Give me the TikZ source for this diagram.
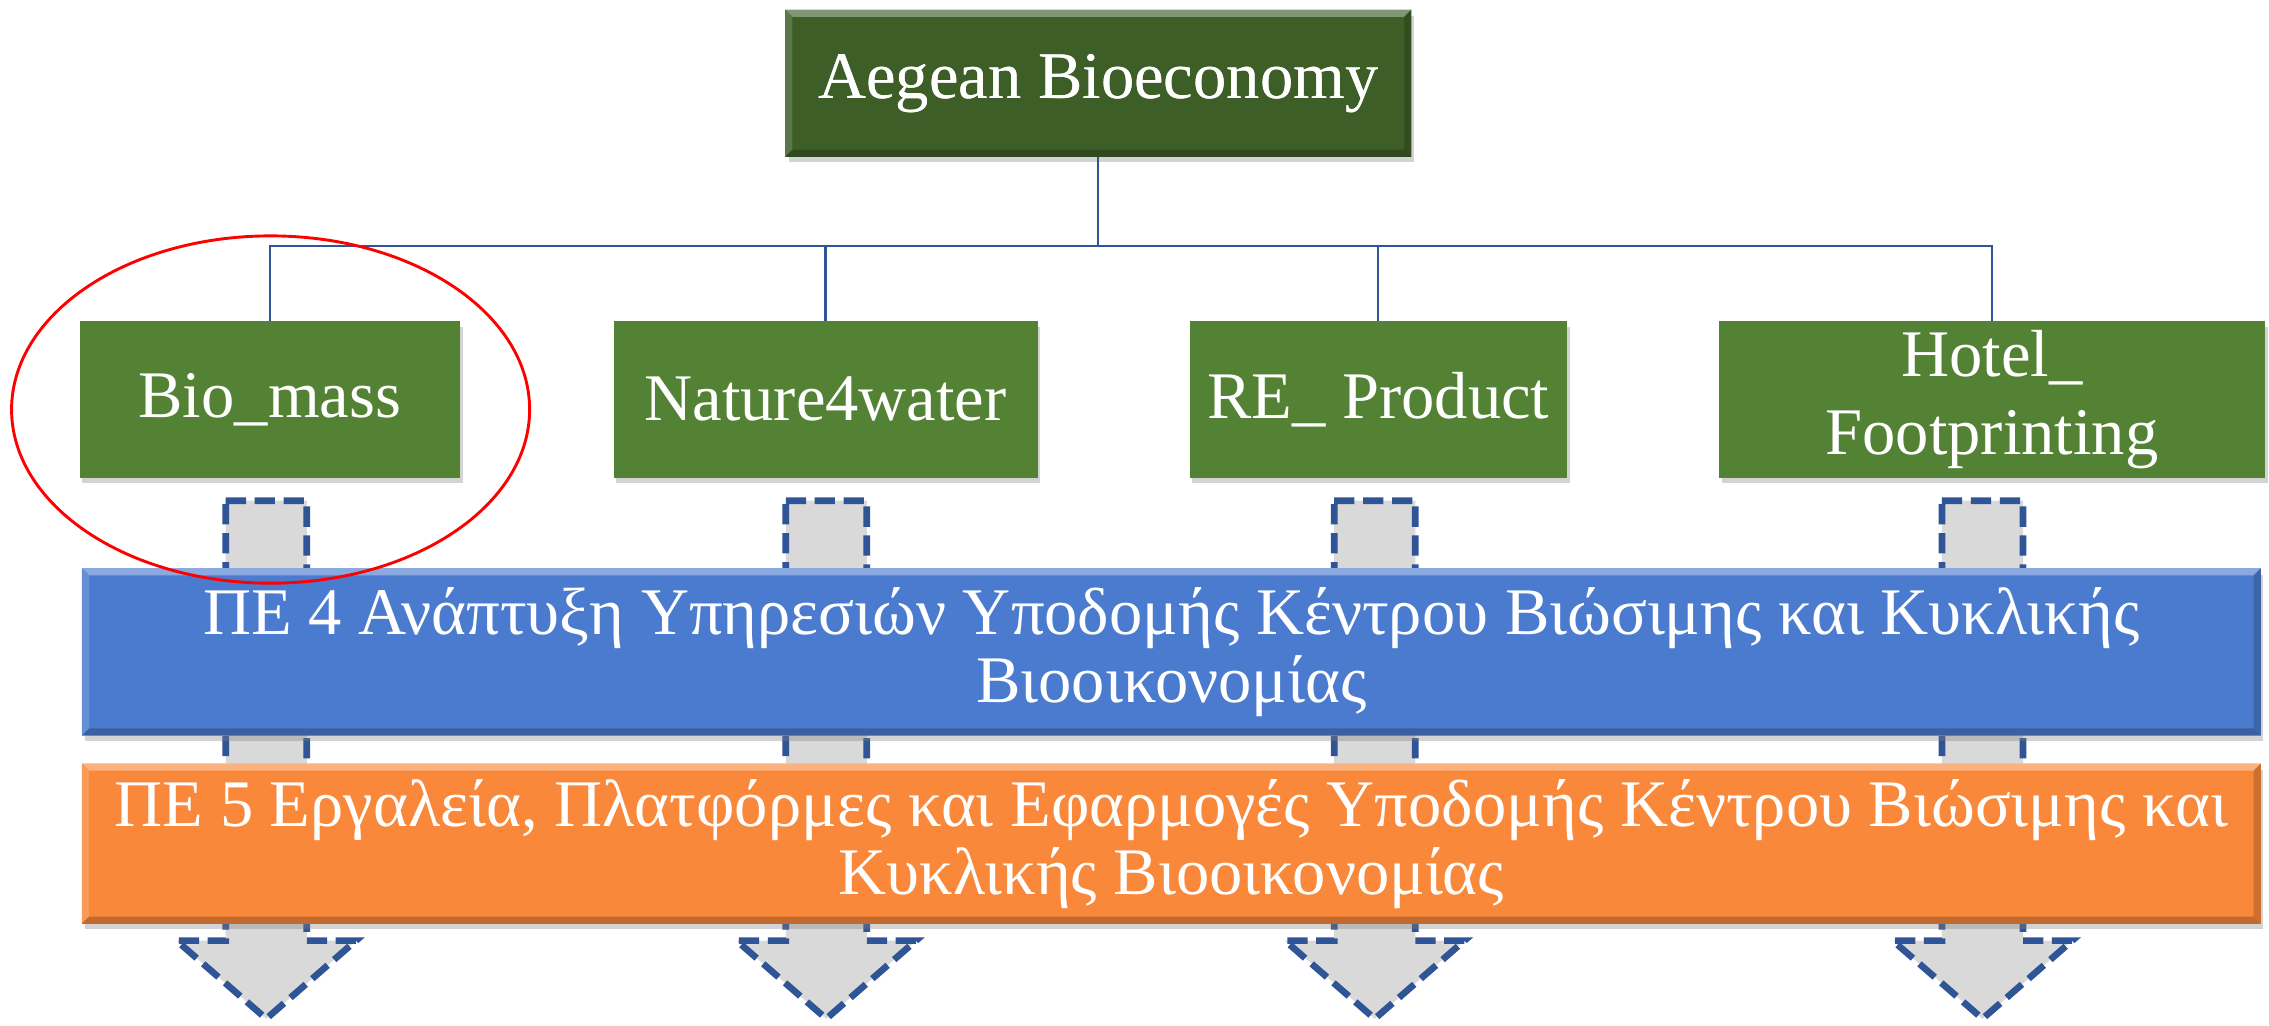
\documentclass[tikz,border=0pt]{standalone}
\usepackage{fontspec}
\setmainfont{Liberation Serif}
\usetikzlibrary{shadows}
\definecolor{dkgreen}{HTML}{3E5E28}
\definecolor{midgreen}{HTML}{548235}
\definecolor{barblue}{HTML}{4A7BCF}
\definecolor{barorange}{HTML}{F9883A}
\definecolor{linkblue}{HTML}{2F5597}
\definecolor{arrowgray}{HTML}{D9D9D9}
\newcommand{\mybevel}[2]{%
  \fill[#2!65!white] (#1.north west) -- (#1.north east) -- ([shift={(-5,5)}]#1.north east) -- ([shift={(5,5)}]#1.north west) -- cycle;
  \fill[#2!85!white] (#1.north west) -- ([shift={(5,5)}]#1.north west) -- ([shift={(5,-5)}]#1.south west) -- (#1.south west) -- cycle;
  \fill[#2!82!black] (#1.north east) -- ([shift={(-5,5)}]#1.north east) -- ([shift={(-5,-5)}]#1.south east) -- (#1.south east) -- cycle;
  \fill[#2!78!black] (#1.south west) -- ([shift={(5,-5)}]#1.south west) -- ([shift={(-5,-5)}]#1.south east) -- (#1.south east) -- cycle;
}
\tikzset{
  boxbase/.style={inner sep=0pt, text=white, align=center,
    drop shadow={opacity=0.35, shadow xshift=1pt, shadow yshift=-2pt}},
  topbox/.style={boxbase, fill=dkgreen, minimum width=216pt, minimum height=50.5pt,
    font=\fontsize{23}{27}\selectfont},
  greenbox/.style={boxbase, fill=midgreen, minimum height=54pt,
    font=\fontsize{23}{27}\selectfont},
  barbox/.style={boxbase, minimum width=752.5pt, font=\fontsize{23}{23.5}\selectfont},
  link/.style={draw=linkblue, line width=0.75pt},
  blockarrow/.style={fill=arrowgray, draw=linkblue, line width=2.3pt,
    dash pattern=on 7pt off 3pt, line join=miter},
}
\begin{document}
\begin{tikzpicture}[x=0.5pt, y=-0.5pt]
\useasboundingbox (0,0) rectangle (1568,709);

% block arrows (behind the bars)
\foreach \ax in {184,571,950,1370} {
  \draw[blockarrow] (\ax-28,346) -- (\ax+28,346) -- (\ax+28,650) -- (\ax+62,650)
    -- (\ax,704) -- (\ax-62,650) -- (\ax-28,650) -- cycle;
}

% top box
\node[topbox] (top) at (759,57.5) {Aegean Bioeconomy};
\mybevel{top}{dkgreen}
\node[text=white, font=\fontsize{23}{27}\selectfont] (toptext) at (top.center) {Aegean Bioeconomy};

% green boxes
\node[greenbox, minimum width=131.5pt] (bm) at (186.5,276) {Bio\_mass};
\node[greenbox, minimum width=146.5pt] (nw) at (570.5,276) {Nature4water};
\node[greenbox, minimum width=130.5pt] (re) at (952.5,276) {RE\_ Product};
\node[greenbox, minimum width=188.5pt] (hf) at (1376.5,276) {Hotel\_\\Footprinting};

% connectors
\coordinate (hub) at (759,170);
\draw[link] (top.south) -- (hub);
\draw[link] (hub) -| (bm.north);
\draw[link] (hub) -| (nw.north);
\draw[link] (hub) -| (re.north);
\draw[link] (hub) -| (hf.north);

% blue bar
\node[barbox, fill=barblue, minimum height=57.5pt] (pe4) at (809.5,450.5) {};
\mybevel{pe4}{barblue}
\node[text=white, align=center, font=\fontsize{23}{23.5}\selectfont] (pe4text) at (pe4.center)
  {ΠΕ 4 Ανάπτυξη Υπηρεσιών Υποδομής Κέντρου Βιώσιμης και Κυκλικής\\Βιοοικονομίας};

% orange bar
\node[barbox, fill=barorange, minimum height=55pt] (pe5) at (809.5,583) {};
\mybevel{pe5}{barorange}
\node[text=white, align=center, font=\fontsize{23}{23.5}\selectfont] (pe5text) at (pe5.center)
  {ΠΕ 5 Εργαλεία, Πλατφόρμες και Εφαρμογές Υποδομής Κέντρου Βιώσιμης και\\Κυκλικής Βιοοικονομίας};

% red ellipse
\draw[red, line width=1pt] (187,283) ellipse (179 and 120);
\end{tikzpicture}
\end{document}
